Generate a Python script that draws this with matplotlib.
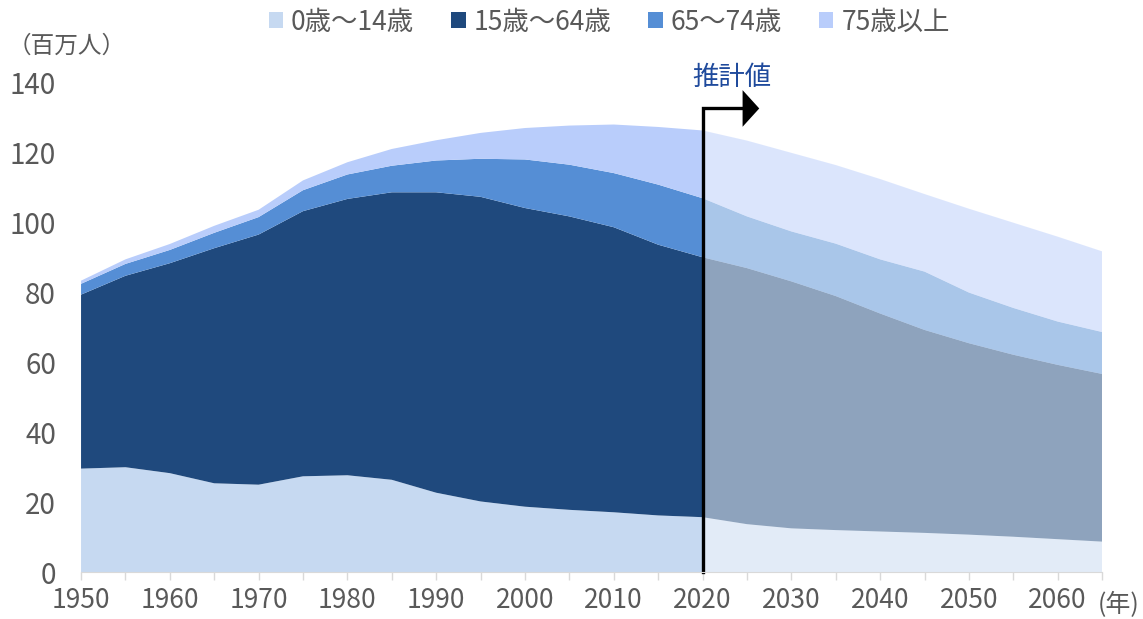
import numpy as np
import matplotlib
matplotlib.use('Agg')
import matplotlib.pyplot as plt

plt.rcParams['font.family'] = ['Noto Sans CJK JP', 'DejaVu Sans']

# data (millions)
years = [1950, 1955, 1960, 1965, 1970, 1975, 1980, 1985, 1990, 1995, 2000, 2005,
         2010, 2015, 2020, 2025, 2030, 2035, 2040, 2045, 2050, 2055, 2060, 2065]
age_0_14 = [29.6, 30.0, 28.3, 25.4, 25.0, 27.4, 27.7, 26.4, 22.7, 20.2, 18.7, 17.8,
            17.1, 16.2, 15.7, 13.7, 12.5, 12.0, 11.6, 11.2, 10.7, 10.1, 9.4, 8.7]
age_15_64 = [49.8, 54.8, 60.1, 67.3, 71.6, 75.9, 79.1, 82.3, 86.0, 87.2, 85.5, 84.0,
             81.6, 77.5, 74.4, 73.3, 70.7, 67.0, 62.4, 58.1, 54.8, 52.1, 49.9, 48.0]
age_65_74 = [3.1, 3.4, 3.8, 4.4, 5.0, 6.0, 7.0, 7.6, 9.1, 10.9, 13.9, 14.8,
             15.5, 17.2, 16.9, 14.8, 14.3, 15.0, 15.5, 16.7, 14.5, 13.4, 12.4, 12.0]
age_75 = [0.9, 1.3, 1.7, 2.0, 2.1, 2.8, 3.5, 4.8, 5.8, 7.4, 9.0, 11.2,
          13.9, 16.5, 19.4, 21.7, 22.5, 22.5, 23.0, 22.2, 24.0, 24.4, 24.3, 23.1]
labels = ['0歳～14歳', '15歳～64歳', '65～74歳', '75歳以上']
colors = ['#C6D9F1', '#1F497D', '#558ED5', '#B9CDFB']
proj_start = 2020

yrs = np.array(years)
series = np.array([age_0_14, age_15_64, age_65_74, age_75])
hist = yrs <= proj_start
proj = yrs >= proj_start

fig = plt.figure(figsize=(11.43, 6.19), dpi=100)
ax = fig.add_axes([0.0709, 0.0759, 0.8933, 0.7901])

ax.stackplot(yrs[hist], series[:, hist], colors=colors, labels=labels, lw=0)
ax.stackplot(yrs[proj], series[:, proj], colors=colors, alpha=0.5, lw=0)

ax.set_xlim(1950, 2065)
ax.set_ylim(0, 140)
ax.set_yticks(range(0, 141, 20))
ax.set_xticks(range(1950, 2066, 5))
ax.set_xticklabels([str(y) if y % 10 == 0 and y <= 2060 else '' for y in range(1950, 2066, 5)])
for s in ['top', 'right', 'left']:
    ax.spines[s].set_visible(False)
ax.spines['bottom'].set_color('#D9D9D9')
ax.tick_params(axis='x', colors='#D9D9D9', length=6, width=1, labelcolor='#595959',
               labelsize=19, pad=5)
ax.tick_params(axis='y', length=0, labelcolor='#595959', labelsize=20, pad=18)

# projection marker
ax.plot([proj_start, proj_start, 2025.2], [0, 132.7, 132.7], color='black', lw=2.4,
        solid_joinstyle='miter', clip_on=False)
ax.annotate('', xy=(2026.7, 132.7), xytext=(2024.9, 132.7),
            arrowprops=dict(arrowstyle='-|>,head_length=0.6,head_width=0.66',
                            mutation_scale=20, color='black', lw=0),
            annotation_clip=False)
ax.text(2023.3, 141.5, '推計値', ha='center', va='center', fontsize=19,
        color='#1F4A9C', clip_on=False)

ax.annotate('(年)', xy=(2065, 0), xytext=(12, -24), textcoords='offset points',
            ha='center', va='center', fontsize=18, color='#595959',
            annotation_clip=False)
fig.text(0.007, 0.926, '（百万人）', fontsize=17, color='#595959', va='center')

leg = ax.legend(loc='center', bbox_to_anchor=(0.533, 0.964),
                bbox_transform=fig.transFigure, ncol=4, frameon=False,
                fontsize=19, handlelength=0.55, handleheight=0.55, handletextpad=0.3,
                columnspacing=1.4)
for t in leg.get_texts():
    t.set_color('#595959')

fig.savefig('out.png', dpi=100)
